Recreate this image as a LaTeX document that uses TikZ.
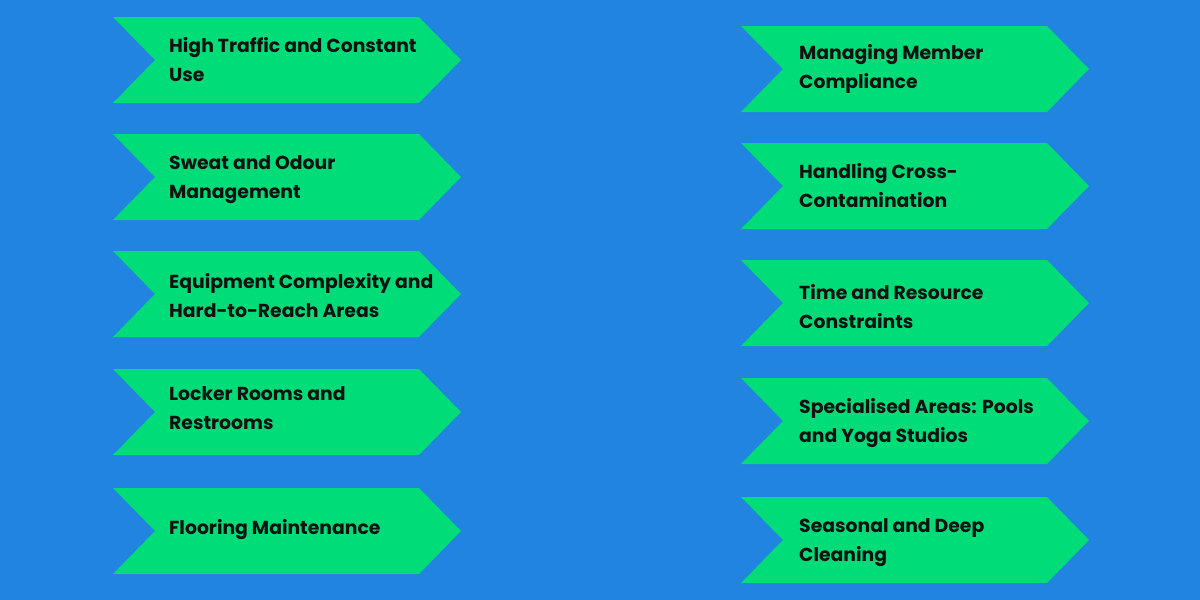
\documentclass[tikz,border=0pt]{standalone}
\usepackage{fontspec}
\setmainfont{Poppins}
\usetikzlibrary{calc}
\definecolor{bgblue}{RGB}{33,132,224}
\definecolor{chevgreen}{RGB}{0,220,120}
\definecolor{txt}{RGB}{17,17,17}
\tikzset{
  chev/.style={fill=chevgreen, draw=none},
  lbl/.style={anchor=west, align=left, text=txt, inner sep=0pt,
    font=\fontsize{18.8}{29}\selectfont\bfseries}
}
% x-left, y-top, name, text, text centre y, text x
\newcommand{\chevron}[6]{%
  \fill[chev] (#1,#2) -- ++(306,0) -- ++(42,43) -- ++(-42,43) -- ++(-306,0) -- ++(42,-43) -- cycle;
  \node[lbl] (#3) at (#6,#5+0.5) {#4};
}
\begin{document}
\begin{tikzpicture}[x=1pt,y=-1pt]
\fill[bgblue] (0,0) rectangle (1200,600);
\useasboundingbox (0,0) rectangle (1200,600);
\chevron{113}{17}{l1}{High Traffic and Constant\\Use}{59.5}{169}
\chevron{113}{134}{l2}{Sweat and Odour\\Management}{179}{169}
\chevron{113}{251}{l3}{Equipment Complexity and\\Hard-to-Reach Areas}{295.5}{169}
\chevron{113}{369}{l4}{Locker Rooms and\\Restrooms}{408}{169}
\chevron{113}{488}{l5}{Flooring Maintenance}{529}{169}
\chevron{741}{26}{r1}{Managing Member\\Compliance}{68.5}{799}
\chevron{741}{143}{r2}{Handling Cross-\\Contamination}{185}{799}
\chevron{741}{260}{r3}{Time and Resource\\Constraints}{306.5}{799}
\chevron{741}{378}{r4}{Specialised Areas: Pools\\and Yoga Studios}{422.5}{799}
\chevron{741}{497}{r5}{Seasonal and Deep\\Cleaning}{542.5}{799}
\end{tikzpicture}
\end{document}
